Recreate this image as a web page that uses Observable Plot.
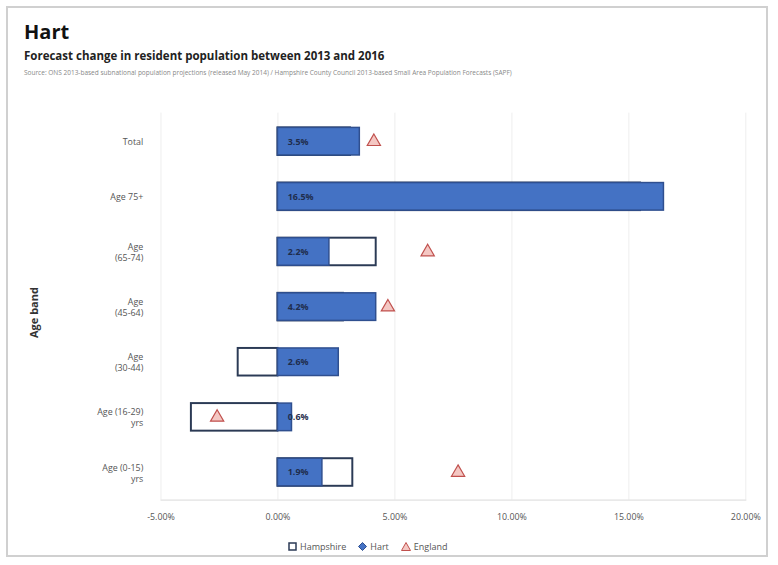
<!DOCTYPE html>
<html><head><meta charset="utf-8">
<script src="https://cdn.jsdelivr.net/npm/d3@7"></script>
<script src="https://cdn.jsdelivr.net/npm/@observablehq/plot@0.6"></script>
<style>
html,body{margin:0;padding:0;background:#fff;}
#frame{position:absolute;left:6px;top:6px;width:762px;height:551px;border:2px solid #d0d0d0;box-sizing:border-box;font-family:"Open Sans","Noto Sans",sans-serif;}
#title{position:absolute;left:16px;top:10px;font-size:20px;font-weight:bold;color:#111;}
#subtitle{position:absolute;left:16px;top:40px;font-size:11.5px;font-weight:bold;color:#222;}
#source{position:absolute;left:16px;top:60px;font-size:6.5px;color:#888;white-space:nowrap;}
#chart{position:absolute;left:-8px;top:82px;}
#ytitle{position:absolute;left:18px;top:330px;transform:rotate(-90deg);transform-origin:0 0;font-size:11px;font-weight:bold;color:#333;}
#legend{position:absolute;left:280px;top:532px;font-size:9px;color:#555;display:flex;gap:12px;align-items:center;}
#legend span{display:flex;align-items:center;gap:3px;}
</style></head>
<body>
<div id="frame">
<div id="title">Hart</div>
<div id="subtitle">Forecast change in resident population between 2013 and 2016</div>
<div id="source">Source: ONS 2013-based subnational population projections (released May 2014) / Hampshire County Council 2013-based Small Area Population Forecasts (SAPF)</div>
<div id="chart"></div>
<div id="ytitle">Age band</div>
<div id="legend">
<span><svg width="9" height="9"><rect x="1" y="1" width="7" height="7" fill="#fff" stroke="#2b3a55" stroke-width="1.5"/></svg>Hampshire</span>
<span><svg width="9" height="9"><path d="M4.5 0.5 L8.5 4.5 L4.5 8.5 L0.5 4.5Z" fill="#4472c4" stroke="#2f4f8f"/></svg>Hart</span>
<span><svg width="10" height="9"><path d="M5 0.5 L9.5 8.5 L0.5 8.5Z" fill="#f4c7c3" stroke="#c0504d"/></svg>England</span>
</div>
</div>
<script>
const categories = ["Total", "Age 75+", "Age\n(65-74)", "Age\n(45-64)", "Age\n(30-44)", "Age (16-29)\nyrs", "Age (0-15)\nyrs"];
const hampshire = [3.1, 15.5, 4.2, 2.8, -1.7, -3.7, 3.2];
const hart = [3.5, 16.5, 2.2, 4.2, 2.6, 0.6, 1.9];
const england = [4.1, 10.3, 6.4, 4.7, 1.5, -2.6, 7.7];
const xTicks = [-5, 0, 5, 10, 15, 20];

const rows = categories.map((c, i) => ({cat: c, hampshire: hampshire[i], hart: hart[i], england: england[i]}));

const chart = Plot.plot({
  width: 778,
  height: 443,
  marginLeft: 163,
  marginRight: 21,
  marginTop: 23,
  marginBottom: 27,
  style: {fontFamily: "'Open Sans','Noto Sans',sans-serif", fontSize: "9px", color: "#555"},
  x: {domain: [-5, 20], label: null},
  y: {domain: categories, paddingInner: 0.5, paddingOuter: 0.25, label: null},
  marks: [
    Plot.gridX(xTicks, {stroke: "#eeeeee", strokeOpacity: 1}),
    Plot.frame({anchor: "bottom", stroke: "#d8d8d8"}),
    Plot.axisX({ticks: xTicks, tickFormat: d => d.toFixed(2) + "%", tickSize: 0, tickPadding: 14, label: null}),
    Plot.axisY({tickSize: 0, tickPadding: 18, lineHeight: 1.25, label: null, fontSize: 9}),
    Plot.barX(rows, {x: "hampshire", y: "cat", fill: "#fff", stroke: "#2b3a55", strokeWidth: 2}),
    Plot.dot(rows, {x: "england", y: "cat", symbol: "triangle", r: 5, fill: "#f4c7c3", stroke: "#c0504d", strokeWidth: 1.2}),
    Plot.barX(rows, {x: "hart", y: "cat", fill: "#4472c4", stroke: "#2f4f8f", strokeWidth: 1.5}),
    Plot.text(rows, {x: 0, y: "cat", text: d => d.hart.toFixed(1) + "%", dx: 10, textAnchor: "start", fill: "#1f2d4d", fontWeight: "bold", fontSize: 9})
  ]
});
document.getElementById("chart").appendChild(chart);
</script>
</body></html>
